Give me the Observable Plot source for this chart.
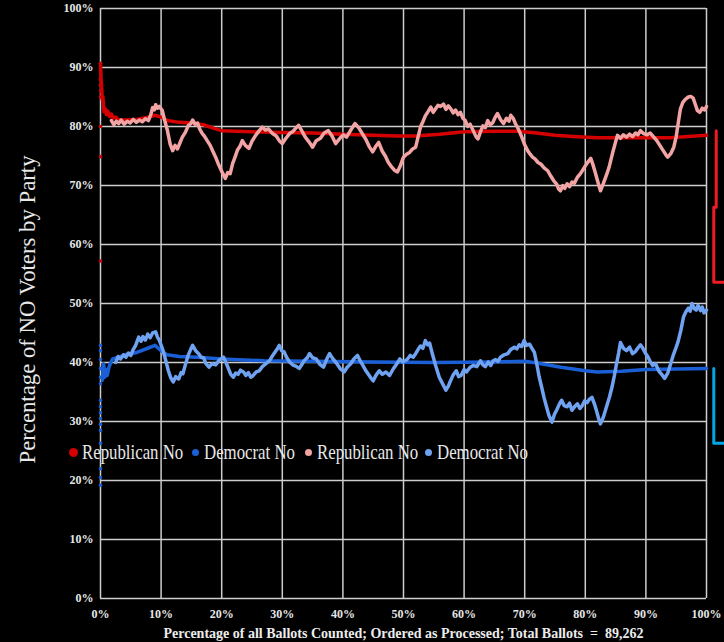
<!DOCTYPE html>
<html><head><meta charset="utf-8">
<script src="https://cdn.jsdelivr.net/npm/d3@7"></script>
<script src="https://cdn.jsdelivr.net/npm/@observablehq/plot@0.6"></script>
<style>
html,body{margin:0;padding:0;background:#000;}
#wrap{position:relative;width:724px;height:642px;overflow:hidden;background:#000;}
#legend{position:absolute;left:0;top:440px;height:24px;font-family:"Liberation Serif",serif;font-size:21px;color:#e8e8e8;white-space:nowrap;}
#legend .it{position:absolute;top:0;display:flex;align-items:center;height:24px;}
#legend .dot{display:inline-block;border-radius:50%;flex:none;}
#legend .lab{display:inline-block;transform:scaleX(0.8);transform-origin:0 50%;}
</style>
</head><body>
<div id="wrap"></div>
<script>
// ---- data (x = % of ballots counted, y = % NO) ----
const xTicks = [0,10,20,30,40,50,60,70,80,90,100];
const yTicks = [0,10,20,30,40,50,60,70,80,90,100];

// cumulative NO share
const repCum = [[0,90.5],[0.1,88],[0.2,86.5],[0.3,84.5],[0.4,85],[0.5,83.5],[0.6,82.5],[0.8,83.0],[1,82.0],[1.2,82.6],[1.5,81.7],[1.8,82.1],[2.1,81.4],[2.5,81.6],[3,81.1],[4,81.1],[6,81.2],[8,81.6],[9,81.9],[10,81.6],[11,81.0],[13,80.7],[15,80.6],[17,80.3],[19,79.6],[20,79.3],[25,79.1],[30,79.0],[35,78.9],[40,78.7],[45,78.5],[49,78.4],[52,78.4],[56,78.7],[60,79.1],[65,79.2],[69,79.2],[72,78.9],[75,78.5],[78,78.3],[82,78.1],[86,78.1],[90,78.1],[94,78.1],[97,78.3],[100,78.5]];

const demCum = [[0.3,37],[0.5,39.8],[0.7,37.5],[0.9,38.8],[1.1,37.8],[1.4,39.2],[1.7,40.0],[2,40.6],[3,40.9],[4,41.3],[6,41.7],[8,42.5],[9,42.9],[10,42.0],[11,41.3],[13,41.0],[16,40.9],[20,40.6],[27,40.3],[35,40.2],[45,40.1],[55,40.0],[65,40.1],[70,40.2],[72,39.9],[76,39.2],[80,38.6],[82,38.4],[86,38.5],[90,38.8],[95,38.9],[100,39.0]];

// moving-window NO share
const repWin = [[1.8,81.0],[2.2,80.3],[2.6,80.9],[3.0,80.5],[3.4,81.1],[3.9,80.4],[4.4,80.9],[4.9,80.6],[5.4,81.2],[5.9,80.7],[6.4,81.1],[6.9,80.8],[7.4,81.3],[7.9,81.0],[8.3,82.0],[8.6,83.2],[8.9,82.8],[9.1,83.7],[9.4,83.1],[9.7,83.4],[10.2,82.7],[10.6,81.0],[11,79.5],[11.5,77.0],[11.9,75.9],[12.3,76.8],[12.7,76.2],[13.1,77.2],[13.5,78.2],[14,79.0],[14.5,80.2],[14.9,80.5],[15.2,81.1],[15.6,80.4],[16,80.6],[16.4,79.5],[16.8,78.8],[17.2,78.3],[17.6,77.6],[18.1,76.8],[18.5,75.9],[19,74.8],[19.5,73.5],[20,72.4],[20.6,71.2],[21,72.2],[21.4,72.0],[21.8,73.7],[22.2,74.8],[22.6,76.0],[23,76.6],[23.4,77.6],[23.9,76.8],[24.5,76.3],[25,77.5],[25.6,78.5],[26.2,79.3],[26.7,79.9],[27.2,79.4],[27.7,79.6],[28.4,78.8],[29,78.4],[29.5,77.6],[30,77.1],[30.6,78.0],[31.2,78.8],[31.8,79.2],[32.3,79.8],[32.7,80.2],[33.2,79.3],[33.8,78.2],[34.4,77.4],[35,76.5],[35.6,77.6],[36.3,78.0],[36.9,78.9],[37.6,79.3],[38.2,78.4],[38.8,77.1],[39.5,78.0],[40.1,78.6],[40.6,78.2],[41.3,79.4],[42,80.5],[42.6,79.8],[43.2,78.8],[43.8,77.8],[44.4,76.5],[44.9,75.7],[45.4,76.6],[45.9,77.3],[46.5,75.8],[47,75.0],[47.5,73.9],[48,73.2],[48.5,72.6],[49,72.3],[49.5,73.4],[50,74.8],[50.5,75.3],[51,75.6],[51.5,76.2],[52,76.5],[52.4,78.2],[52.8,79.9],[53.2,80.8],[53.6,81.8],[54.1,82.6],[54.5,83.3],[54.9,82.4],[55.3,83.0],[55.7,83.6],[56.1,83.4],[56.6,83.8],[57,82.9],[57.4,83.5],[57.8,83.0],[58.2,82.3],[58.6,82.8],[59,82.0],[59.4,82.4],[59.8,81.4],[60.2,81.0],[60.6,80.0],[61,80.4],[61.5,79.3],[62,78.2],[62.3,77.9],[62.7,79.1],[63.1,80.1],[63.5,79.8],[63.9,81.0],[64.3,80.3],[64.7,80.6],[65.1,81.5],[65.5,82.2],[66,81.2],[66.5,80.5],[67,81.4],[67.4,80.9],[67.7,81.9],[68.1,81.4],[68.5,80.4],[68.8,79.9],[69.2,79.0],[69.6,78.0],[70,76.9],[70.5,75.9],[70.9,75.3],[71.3,74.8],[71.7,74.5],[72.2,73.9],[72.7,73.6],[73.2,73.0],[73.8,72.5],[74.3,71.6],[74.8,70.8],[75.3,70.2],[75.6,69.4],[75.9,69.1],[76.3,70.0],[76.6,69.5],[77,70.3],[77.4,69.8],[77.8,70.6],[78.2,70.4],[78.7,71.4],[79.2,72.0],[79.8,73.0],[80.3,73.8],[80.9,74.6],[81.3,73.4],[81.7,72.0],[82.1,70.5],[82.5,69.1],[83,70.4],[83.5,71.8],[83.9,73.0],[84.5,75.5],[85,77.4],[85.3,78.5],[85.8,78.0],[86.3,78.6],[86.8,78.2],[87.3,78.7],[87.8,78.3],[88.3,78.9],[88.7,78.6],[89.1,79.3],[89.6,78.8],[90.2,78.6],[90.7,78.9],[91.3,78.2],[91.8,77.6],[92.3,76.8],[92.8,76.0],[93.3,75.2],[93.6,74.8],[94.1,75.4],[94.6,76.5],[95,78.3],[95.4,81.0],[95.7,83.0],[96.1,84.1],[96.5,84.6],[97,85.0],[97.4,85.1],[97.8,84.8],[98.2,83.6],[98.5,82.7],[98.9,82.4],[99.3,83.1],[99.7,82.8],[100,83.4]];

const demWin = [[2.5,40.0],[2.9,41.0],[3.3,40.6],[3.8,41.3],[4.2,40.9],[4.6,41.6],[5,41.2],[5.4,42.2],[5.8,42.9],[6.3,44.3],[6.7,43.6],[7,44.4],[7.4,43.8],[7.8,44.8],[8.2,44.2],[8.6,45.0],[9.1,45.2],[9.4,44.3],[9.7,43.8],[10.2,42.4],[10.6,41.0],[11.2,38.6],[11.6,37.4],[12,36.7],[12.4,37.6],[12.9,37.2],[13.3,38.3],[13.6,38.1],[14,39.6],[14.5,41.3],[15,42.5],[15.2,42.9],[15.7,42.0],[16.2,41.5],[16.6,40.9],[17,40.8],[17.4,39.8],[17.9,39.2],[18.4,39.8],[19,39.6],[19.6,40.4],[20.3,40.9],[20.7,40.0],[21.1,39.0],[21.5,38.0],[21.9,37.5],[22.3,38.2],[22.7,38.0],[23.1,38.7],[23.6,38.4],[24,37.8],[24.4,38.3],[24.8,37.5],[25.2,37.8],[25.7,38.4],[26.2,38.6],[26.7,39.3],[27.3,39.8],[27.9,40.3],[28.3,41.0],[28.7,41.6],[29.1,42.2],[29.5,42.9],[29.9,42.0],[30.3,41.8],[30.7,40.9],[31.2,40.1],[31.7,39.6],[32.2,39.4],[32.8,39.0],[33.2,39.6],[33.6,40.3],[34.1,40.8],[34.5,41.5],[35,40.8],[35.6,40.6],[36.2,39.7],[36.8,39.2],[37.3,40.5],[37.8,41.5],[38.3,40.7],[39,39.8],[39.6,38.9],[40.2,38.4],[40.7,39.2],[41.3,39.8],[41.8,40.6],[42.4,41.2],[42.9,40.2],[43.3,39.5],[43.8,38.6],[44.2,38.0],[44.6,37.4],[45,36.9],[45.5,37.9],[46,38.6],[46.5,38.0],[47.1,38.4],[47.7,37.8],[48.3,38.9],[48.9,39.8],[49.4,40.6],[49.9,40.1],[50.6,40.5],[51.1,41.2],[51.6,40.9],[52,41.5],[52.4,42.2],[52.8,42.8],[53.2,42.4],[53.6,43.7],[54,43.0],[54.3,43.3],[54.7,41.7],[55.3,39.5],[55.9,37.5],[56.4,36.5],[57,35.3],[57.4,36.0],[57.8,37.0],[58.2,37.9],[58.7,38.6],[59.1,37.6],[59.5,37.8],[60,38.8],[60.4,38.4],[61,39.2],[61.5,39.5],[62.1,39.3],[62.7,40.3],[63.1,39.6],[63.5,39.3],[64,40.1],[64.4,39.5],[64.8,40.3],[65.2,40.5],[65.6,40.2],[66,40.9],[66.6,41.3],[67.2,41.5],[67.7,42.2],[68.3,42.6],[68.7,42.3],[69.1,43.0],[69.5,42.7],[69.9,43.7],[70.3,42.9],[70.8,43.1],[71.2,42.4],[71.6,41.7],[72,39.7],[72.4,37.5],[72.8,35.8],[73.2,34.0],[73.6,32.5],[74,31.0],[74.5,29.9],[74.9,31.2],[75.3,32.0],[75.7,32.9],[76.1,33.6],[76.5,32.7],[77,32.5],[77.4,33.1],[77.8,31.9],[78.3,32.6],[78.7,33.0],[79.1,32.2],[79.5,32.7],[79.9,33.5],[80.3,33.2],[80.7,33.8],[81.1,34.1],[81.5,33.0],[81.8,32.0],[82.2,30.5],[82.5,29.6],[83,30.8],[83.5,32.5],[84,34.2],[84.4,35.8],[84.8,37.8],[85.1,39.5],[85.5,41.6],[85.8,43.4],[86.3,42.4],[86.8,42.0],[87.3,42.6],[87.8,41.5],[88.3,41.9],[88.7,42.5],[89.1,43.0],[89.5,42.4],[89.9,41.6],[90.3,41.0],[90.7,40.2],[91.1,39.5],[91.6,39.8],[92.1,38.6],[92.6,38.0],[93.1,37.3],[93.6,38.2],[94,39.5],[94.5,41.2],[94.9,42.3],[95.3,43.5],[95.8,45.6],[96.2,47.7],[96.6,48.6],[97,49.2],[97.3,48.7],[97.6,50.0],[98,49.1],[98.3,48.9],[98.6,49.7],[99,48.8],[99.3,49.4],[99.6,48.4],[100,48.9]];

// early scattered points at the very start of counting
const repStart = [90.7,89.5,88,87,86,85,80.0,74.9,57.2];
const demStart = [42.9,42,40.5,39,37.5,36.4,33.6,32.5,31.5,30.5,29.5,28.5,26.3,22,20.5,19.2];

// partial brackets from the neighbouring panel (cut off at the right edge)
const repBracket = [[101.6,79.3],[101.6,66.3],[101.2,66.3],[101.2,53.6],[104,53.6]];
const demBracket = [[101.2,39.0],[101.2,26.3],[104,26.3]];

const legendItems = [
  {label:"Republican No", color:"#d40000", size:9, left:73},
  {label:"Democrat No", color:"#1a5fd6", size:7, left:195},
  {label:"Republican No", color:"#f2a3a3", size:7, left:308},
  {label:"Democrat No", color:"#6fa2f0", size:7, left:428}
];

const xTitle = "Percentage of all Ballots Counted; Ordered as Processed; Total Ballots  =  89,262";
const yTitle = "Percentage of NO Voters by Party";

const X = d => d[0], Y = d => d[1];
const grid = "#cdcdcd";
const serif = "'Liberation Serif', 'Times New Roman', serif";

const chart = Plot.plot({
  width: 724, height: 642,
  marginLeft: 100, marginRight: 18, marginTop: 8, marginBottom: 44,
  style: {background: "#000", color: "#e6e6e6", fontFamily: serif, fontSize: "12px", fontWeight: "bold", overflow: "visible"},
  x: {domain: [0, 100]},
  y: {domain: [0, 100]},
  marks: [
    Plot.gridX(xTicks, {stroke: grid, strokeOpacity: 1, strokeWidth: 1.5}),
    Plot.gridY(yTicks, {stroke: grid, strokeOpacity: 1, strokeWidth: 1.5}),
    Plot.axisX(xTicks, {tickSize: 0, tickPadding: 11, tickFormat: d => d + "%", label: null, fill: "#e6e6e6", fontFamily: serif, fontSize: 12, fontWeight: "bold"}),
    Plot.axisY(yTicks, {tickSize: 0, tickPadding: 7, tickFormat: d => d + "%", label: null, fill: "#e6e6e6", fontFamily: serif, fontSize: 12, fontWeight: "bold"}),
    Plot.line(repCum, {x: X, y: Y, stroke: "#d40000", strokeWidth: 3.5, strokeLinejoin: "round"}),
    Plot.line(demCum, {x: X, y: Y, stroke: "#1a5fd6", strokeWidth: 3.5, strokeLinejoin: "round"}),
    Plot.line(repWin, {x: X, y: Y, stroke: "#f2a3a3", strokeWidth: 3.5, strokeLinejoin: "round"}),
    Plot.line(demWin, {x: X, y: Y, stroke: "#6fa2f0", strokeWidth: 3.5, strokeLinejoin: "round"}),
    Plot.dot(repStart, {x: () => 0, y: d => d, r: 1.8, fill: "#d40000", stroke: null}),
    Plot.dot(demStart, {x: () => 0, y: d => d, r: 1.8, fill: "#1a5fd6", stroke: null}),
    Plot.line(repBracket, {x: X, y: Y, stroke: "#ee1c24", strokeWidth: 3, clip: false}),
    Plot.line(demBracket, {x: X, y: Y, stroke: "#00a6e6", strokeWidth: 3, clip: false}),
    Plot.text([xTitle], {frameAnchor: "bottom", dy: 35, lineAnchor: "middle", fontFamily: serif, fontSize: 14, fontWeight: "bold", fill: "#ececec"}),
    Plot.text([yTitle], {frameAnchor: "left", dx: -73, dy: 6, rotate: -90, textAnchor: "middle", lineAnchor: "middle", fontFamily: serif, fontSize: 24, fontWeight: "normal", fill: "#e8e8e8"})
  ]
});

// compress the rotated y title to the reference's length
d3.select(chart).selectAll("text")
  .filter(function() { return this.textContent === yTitle; })
  .attr("textLength", 308)
  .attr("lengthAdjust", "spacingAndGlyphs");

const wrap = document.getElementById("wrap");
wrap.appendChild(chart);

const legend = document.createElement("div");
legend.id = "legend";
for (const it of legendItems) {
  const el = document.createElement("div");
  el.className = "it";
  el.style.left = (it.left - it.size / 2) + "px";
  const dot = document.createElement("span");
  dot.className = "dot";
  dot.style.width = it.size + "px";
  dot.style.height = it.size + "px";
  dot.style.background = it.color;
  dot.style.marginRight = (9 - it.size / 2) + "px";
  const t = document.createElement("span");
  t.className = "lab";
  t.textContent = it.label;
  el.appendChild(dot); el.appendChild(t);
  legend.appendChild(el);
}
wrap.appendChild(legend);
</script>
</body></html>
